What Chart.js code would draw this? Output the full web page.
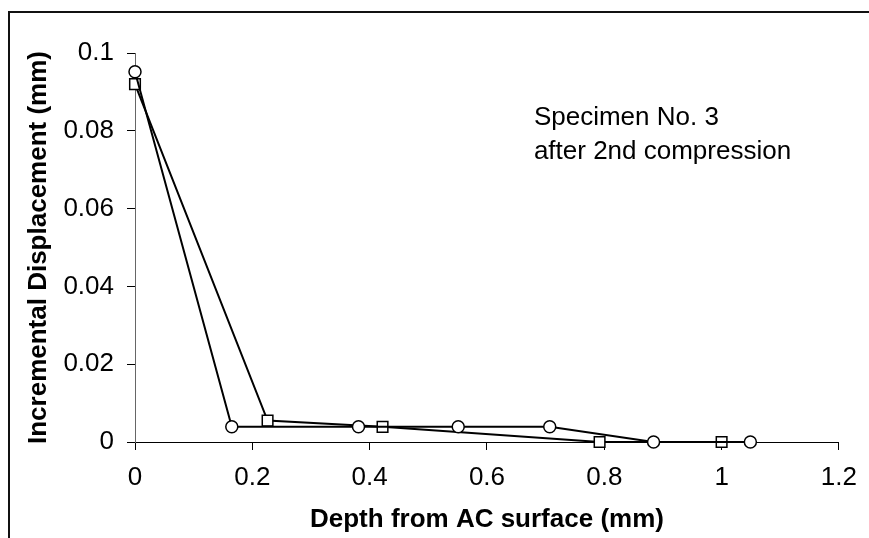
<!DOCTYPE html>
<html>
<head>
<meta charset="utf-8">
<script src="https://cdn.jsdelivr.net/npm/chart.js@4.4.0/dist/chart.umd.min.js"></script>
<style>
  html, body { margin: 0; padding: 0; background: #fff; }
  #wrap { position: relative; width: 869px; height: 538px; }
</style>
</head>
<body>
<div id="wrap"><canvas id="grafico" width="869" height="538"></canvas></div>
<script>
// Datos
var depthCircle = [0, 0.165, 0.381, 0.551, 0.707, 0.884, 1.049];
var dispCircle = [0.0952, 0.0039, 0.0039, 0.0039, 0.0039, 0, 0];

var depthSquare = [0, 0.226, 0.422, 0.792, 1.0];
var dispSquare = [0.092, 0.0055, 0.0039, 0, 0];

var xTicks = [0, 0.2, 0.4, 0.6, 0.8, 1, 1.2];
var xTickLabels = ['0', '0.2', '0.4', '0.6', '0.8', '1', '1.2'];
var yTicks = [0, 0.02, 0.04, 0.06, 0.08, 0.1];
var yTickLabels = ['0', '0.02', '0.04', '0.06', '0.08', '0.1'];

var noteLines = ['Specimen No. 3', 'after 2nd compression'];

var fuente = "'Liberation Sans', Arial, sans-serif";

function toPoints(xs, ys) {
    return xs.map(function(x, i) { return {x: x, y: ys[i]}; });
}

// marco exterior (solo arriba e izquierda, como en la imagen)
var marco = {
    id: 'marco',
    afterDraw: function(chart) {
        var ctx = chart.ctx;
        ctx.save();
        ctx.strokeStyle = '#111';
        ctx.lineWidth = 2;
        ctx.beginPath();
        ctx.moveTo(9, 538);
        ctx.lineTo(9, 12);
        ctx.lineTo(869, 12);
        ctx.stroke();
        ctx.restore();
    }
};

// texto de la muestra dentro del area
var nota = {
    id: 'nota',
    afterDraw: function(chart) {
        var ctx = chart.ctx;
        var xs = chart.scales.x, ys = chart.scales.y;
        var x0 = xs.getPixelForValue(0.68);
        var y0 = ys.getPixelForValue(0.0815);
        ctx.save();
        ctx.fillStyle = '#000';
        ctx.font = '26px ' + fuente;
        ctx.textBaseline = 'alphabetic';
        ctx.textAlign = 'left';
        noteLines.forEach(function(t, i) {
            ctx.fillText(t, x0, y0 + i * 34);
        });
        ctx.restore();
    }
};

var config = {
    type: 'line',
    data: {
        datasets: [
            {
                label: 'circulos',
                data: toPoints(depthCircle, dispCircle),
                borderColor: '#000',
                backgroundColor: '#fff',
                borderWidth: 2,
                pointStyle: 'circle',
                pointRadius: 6,
                pointBorderWidth: 1.5,
                pointBorderColor: '#000',
                pointBackgroundColor: '#fff',
                tension: 0
            },
            {
                label: 'cuadrados',
                data: toPoints(depthSquare, dispSquare),
                borderColor: '#000',
                backgroundColor: '#fff',
                borderWidth: 2,
                pointStyle: 'rect',
                pointRadius: 7.5,
                pointBorderWidth: 1.5,
                pointBorderColor: '#000',
                pointBackgroundColor: '#fff',
                tension: 0
            }
        ]
    },
    options: {
        responsive: false,
        animation: false,
        clip: false,
        layout: {
            padding: {left: 0, top: 53, right: 26, bottom: 0}
        },
        plugins: {
            legend: {display: false},
            tooltip: {enabled: false}
        },
        scales: {
            x: {
                type: 'linear',
                min: 0,
                max: 1.2,
                afterBuildTicks: function(scale) {
                    scale.ticks = xTicks.map(function(v) { return {value: v}; });
                },
                afterFit: function(scale) { scale.height = 96; },
                ticks: {
                    color: '#000',
                    padding: 12,
                    maxRotation: 0,
                    font: {family: fuente, size: 26},
                    callback: function(value, index) { return xTickLabels[index]; }
                },
                grid: {
                    drawOnChartArea: false,
                    drawTicks: true,
                    tickLength: 8,
                    color: '#000',
                    lineWidth: 1
                },
                border: {display: true, color: '#000', width: 1},
                title: {
                    display: true,
                    text: 'Depth from AC surface (mm)',
                    color: '#000',
                    font: {family: fuente, size: 26, weight: 'bold'},
                    padding: {top: 0, bottom: 3}
                }
            },
            y: {
                type: 'linear',
                min: 0,
                max: 0.1,
                afterBuildTicks: function(scale) {
                    scale.ticks = yTicks.map(function(v) { return {value: v}; });
                },
                afterFit: function(scale) { scale.width = 135; },
                ticks: {
                    color: '#000',
                    padding: 13,
                    font: {family: fuente, size: 26},
                    callback: function(value, index) { return yTickLabels[index]; }
                },
                grid: {
                    drawOnChartArea: false,
                    drawTicks: true,
                    tickLength: 8,
                    color: '#000',
                    lineWidth: 1
                },
                border: {display: true, color: '#666', width: 1},
                title: {
                    display: true,
                    text: 'Incremental Displacement (mm)',
                    color: '#000',
                    font: {family: fuente, size: 26, weight: 'bold'},
                    padding: {top: 23, bottom: 0}
                }
            }
        }
    },
    plugins: [marco, nota]
};

var grafico = new Chart(document.getElementById('grafico'), config);
</script>
</body>
</html>
